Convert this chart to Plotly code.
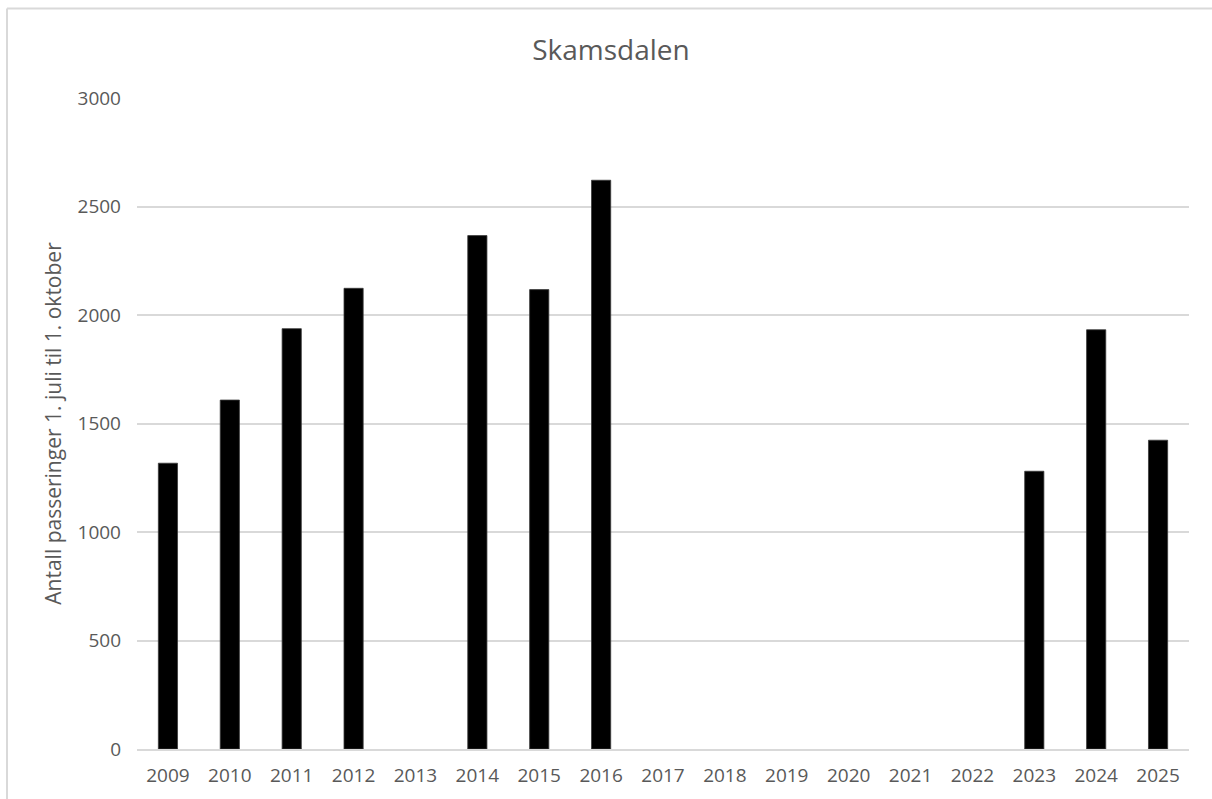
import plotly.graph_objects as go

# Passeringer per sesong (1. juli - 1. oktober); None = ingen telling det året
years = [str(y) for y in range(2009, 2026)]
passages = [1317, 1608, 1937, 2123, None, 2366, 2117, 2621,
            None, None, None, None, None, None, 1280, 1932, 1423]

y_ticks = [0, 500, 1000, 1500, 2000, 2500, 3000]

TEXT = "#595959"
GRID = "#d9d9d9"
FONT = "Open Sans"

W, H = 1212, 799
L, R, T, B = 137, 23, 98, 50
pw, ph = W - L - R, H - T - B

# chart frame edges (left and top run inside the page; right and bottom fall outside it)
frame_left = (7 - L) / pw
frame_top = (T + ph - 8.5) / ph
frame_right = (W - L) / pw
frame_bottom = -(H - (T + ph)) / ph

fig = go.Figure(
    go.Bar(
        x=years,
        y=passages,
        marker=dict(color="#000000", line=dict(color="#3a3a3a", width=0.8)),
        hoverinfo="x+y",
    )
)

frame_style = dict(color=GRID, width=2)

fig.update_layout(
    width=W,
    height=H,
    margin=dict(l=L, r=R, t=T, b=B),
    paper_bgcolor="white",
    plot_bgcolor="white",
    bargap=0.69,
    showlegend=False,
    font=dict(family=FONT, color=TEXT),
    title=dict(
        text="Skamsdalen",
        font=dict(family=FONT, size=28, color=TEXT),
        x=611 / W,
        xref="container",
        xanchor="center",
        y=1 - 50 / H,
        yref="container",
        yanchor="middle",
    ),
    xaxis=dict(
        type="category",
        categoryorder="array",
        categoryarray=years,
        showgrid=False,
        showline=True,
        linecolor=GRID,
        linewidth=1.5,
        ticks="",
        tickfont=dict(family=FONT, size=19, color=TEXT),
        ticklabelstandoff=8,
    ),
    yaxis=dict(
        range=[0, 3000],
        tickvals=y_ticks,
        showgrid=True,
        gridcolor=GRID,
        gridwidth=1.5,
        zeroline=False,
        showline=False,
        ticks="",
        tickfont=dict(family=FONT, size=19, color=TEXT),
        ticklabelstandoff=15,
        title=dict(
            text="Antall passeringer 1. juli til 1. oktober",
            font=dict(family=FONT, size=21, color=TEXT),
            standoff=10,
        ),
    ),
    shapes=[
        dict(type="line", xref="paper", yref="paper",
             x0=frame_left, x1=frame_left, y0=frame_bottom, y1=frame_top,
             line=frame_style, layer="below"),
        dict(type="line", xref="paper", yref="paper",
             x0=frame_left, x1=frame_right, y0=frame_top, y1=frame_top,
             line=frame_style, layer="below"),
    ],
)

fig.write_html("out.html")
